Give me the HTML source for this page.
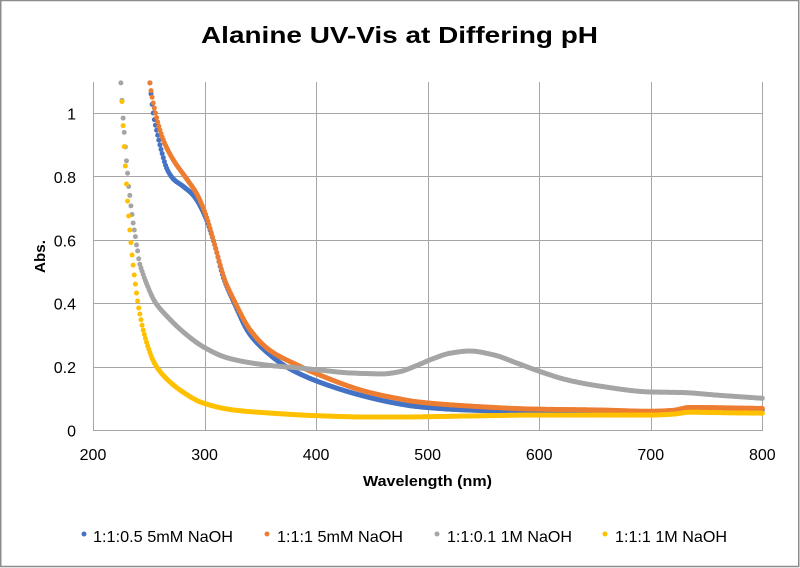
<!DOCTYPE html>
<html>
<head>
<meta charset="utf-8">
<style>
html,body{margin:0;padding:0;background:#fff;}
svg{display:block;}
text{font-family:"Liberation Sans",Arial,sans-serif;fill:#000;}
</style>
</head>
<body>
<svg id="chart" xmlns="http://www.w3.org/2000/svg" width="800" height="568" viewBox="0 0 800 568">
<rect x="0" y="0" width="800" height="568" fill="#fff"/>
<rect x="0.75" y="0.5" width="798" height="566" fill="none" stroke="#8c8c8c" stroke-width="1.5"/>
<text x="201" y="43" font-size="23" font-weight="bold" textLength="397" lengthAdjust="spacingAndGlyphs">Alanine UV-Vis at Differing pH</text>
<g id="grid" stroke="#a6a6a6" stroke-width="1" shape-rendering="crispEdges"></g>
<g id="ylab" font-size="16" text-anchor="end"></g>
<g id="xlab" font-size="16" text-anchor="middle"></g>
<text x="363" y="486" font-size="15" font-weight="bold" textLength="129" lengthAdjust="spacingAndGlyphs">Wavelength (nm)</text>
<text transform="translate(45,273) rotate(-90)" x="0" y="0" font-size="15" font-weight="bold" textLength="33" lengthAdjust="spacingAndGlyphs">Abs.</text>
<g id="series"></g>
<circle cx="84" cy="534" r="2.5" fill="#4472C4"/>
<text x="93" y="542" font-size="16" textLength="140" lengthAdjust="spacingAndGlyphs">1:1:0.5 5mM NaOH</text>
<circle cx="267" cy="534" r="2.5" fill="#ED7D31"/>
<text x="277" y="542" font-size="16" textLength="126" lengthAdjust="spacingAndGlyphs">1:1:1 5mM NaOH</text>
<circle cx="437" cy="534" r="2.5" fill="#A5A5A5"/>
<text x="447" y="542" font-size="16" textLength="125" lengthAdjust="spacingAndGlyphs">1:1:0.1 1M NaOH</text>
<circle cx="605" cy="534" r="2.5" fill="#FFC000"/>
<text x="615" y="542" font-size="16" textLength="112" lengthAdjust="spacingAndGlyphs">1:1:1 1M NaOH</text>
</svg>
<script>
(function(){
var NS="http://www.w3.org/2000/svg";
function X(w){return 93+(w-200)*1.1155;}
function Y(v){return 430-317*v;}
var grid=document.getElementById("grid");
function line(x1,y1,x2,y2){var l=document.createElementNS(NS,"line");l.setAttribute("x1",x1);l.setAttribute("y1",y1);l.setAttribute("x2",x2);l.setAttribute("y2",y2);grid.appendChild(l);}
var yv=[0,0.2,0.4,0.6,0.8,1.0];
for(var i=0;i<yv.length;i++){var y=Math.round(Y(yv[i]))+0.5;line(93,y,763,y);}
for(var w=200;w<=800;w+=100){var x=Math.round(X(w))+0.5;line(x,82,x,430.5);}
var ylab=document.getElementById("ylab");
var ys=["0","0.2","0.4","0.6","0.8","1"];
for(var i=0;i<ys.length;i++){var t=document.createElementNS(NS,"text");t.setAttribute("x",76);t.setAttribute("y",Y(yv[i])+6.5);t.textContent=ys[i];ylab.appendChild(t);}
var xlab=document.getElementById("xlab");
for(var w=200;w<=800;w+=100){var t=document.createElementNS(NS,"text");t.setAttribute("x",X(w));t.setAttribute("y",460);t.textContent=String(w);xlab.appendChild(t);}
var data=[
{c:"#4472C4",p:[[250,1.13],[251,1.095],[254,1.0],[258,0.93],[262,0.872],[266,0.826],[272,0.792],[281,0.768],[290,0.74],[300,0.678],[309,0.585],[317,0.48],[326,0.405],[340,0.305],[356,0.245],[374,0.198],[400,0.155],[446,0.104],[475,0.082],[490,0.074],[535,0.063],[594,0.058],[655,0.059],[699,0.057],[720,0.061],[735,0.068],[800,0.064]]},
{c:"#ED7D31",p:[[250,1.13],[251,1.095],[256,1.0],[263,0.915],[272,0.852],[284,0.792],[293,0.745],[301,0.68],[309,0.585],[318,0.475],[327,0.405],[341,0.315],[359,0.25],[383,0.205],[400,0.178],[446,0.12],[475,0.098],[490,0.089],[535,0.076],[594,0.066],[655,0.063],[699,0.059],[720,0.062],[735,0.071],[800,0.068]]},
{c:"#A5A5A5",p:[[224,1.13],[225,1.095],[226,1.04],[227,0.984],[228,0.939],[229,0.893],[230,0.849],[231,0.81],[232,0.768],[233,0.74],[234,0.707],[235,0.68],[236,0.653],[237,0.631],[238,0.61],[239,0.584],[240,0.565],[241.5,0.53],[243.6,0.505],[248,0.462],[255.6,0.404],[266,0.36],[281,0.309],[299,0.262],[320,0.228],[341,0.212],[360,0.203],[380,0.197],[401,0.19],[430,0.18],[460,0.177],[475,0.184],[490,0.203],[505,0.225],[520,0.242],[538,0.249],[559,0.237],[580,0.211],[601,0.184],[625,0.158],[655,0.138],[699,0.12],[729,0.118],[759,0.11],[800,0.1]]},
{c:"#FFC000",p:[[225,1.12],[226,1.036],[227,0.96],[228,0.894],[229,0.833],[230,0.776],[231,0.722],[232,0.675],[233,0.631],[234,0.591],[235,0.552],[236,0.52],[237,0.489],[238,0.46],[239,0.432],[240,0.407],[241,0.385],[242,0.366],[245,0.315],[250,0.255],[254,0.218],[260,0.185],[267,0.158],[278,0.126],[298,0.086],[326,0.063],[356,0.054],[401,0.045],[446,0.041],[475,0.041],[535,0.044],[594,0.047],[655,0.047],[699,0.047],[720,0.05],[735,0.056],[774,0.054],[800,0.053]]}
];
function pchip(p){
 var n=p.length,h=[],d=[],m=[];
 for(var k=0;k<n-1;k++){h[k]=p[k+1][0]-p[k][0];d[k]=(p[k+1][1]-p[k][1])/h[k];}
 m[0]=d[0];m[n-1]=d[n-2];
 for(var k=1;k<n-1;k++){
  if(d[k-1]*d[k]<=0){m[k]=0;}
  else{var w1=2*h[k]+h[k-1],w2=h[k]+2*h[k-1];m[k]=(w1+w2)/(w1/d[k-1]+w2/d[k]);}
 }
 return function(x){
  var k=0;while(k<n-2&&p[k+1][0]<x)k++;
  var hh=h[k],t=(x-p[k][0])/hh;if(t<0)t=0;if(t>1)t=1;
  var t2=t*t,t3=t2*t;
  return (2*t3-3*t2+1)*p[k][1]+(t3-2*t2+t)*hh*m[k]+(-2*t3+3*t2)*p[k+1][1]+(t3-t2)*hh*m[k+1];
 };
}
var g=document.getElementById("series");
for(var s=0;s<data.length;s++){
 var p=data[s].p,f=pchip(p),grp=document.createElementNS(NS,"g");grp.setAttribute("fill",data[s].c);
 var w0=Math.ceil(p[0][0]),w1=p[p.length-1][0];
 for(var w=w0;w<=w1;w++){
  var v=f(w);
  if(v>1.105)continue;
  var c=document.createElementNS(NS,"circle");
  c.setAttribute("cx",X(w).toFixed(2));c.setAttribute("cy",Y(v).toFixed(2));c.setAttribute("r","2.5");
  grp.appendChild(c);
 }
 g.appendChild(grp);
}
})();
</script>
</body>
</html>
